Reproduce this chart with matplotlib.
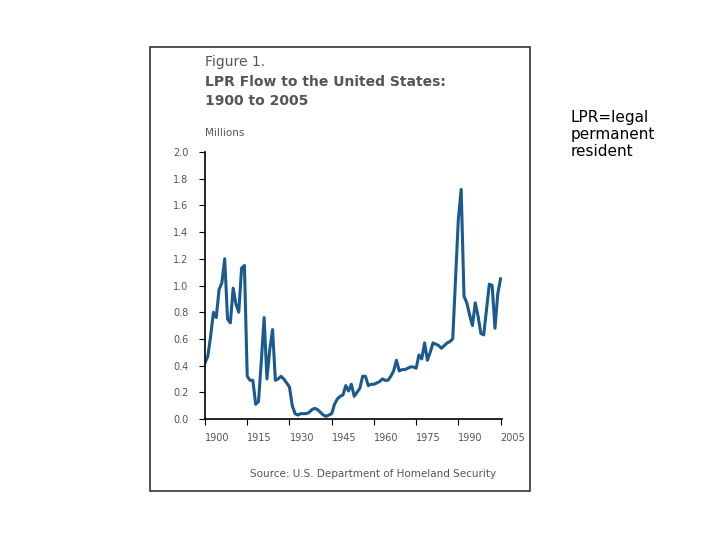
import matplotlib
matplotlib.use("Agg")
import matplotlib.pyplot as plt
from matplotlib.patches import Rectangle

years = list(range(1900, 2006))
lpr = [0.42, 0.47, 0.62, 0.80, 0.76, 0.97, 1.02, 1.20, 0.75, 0.72,
       0.98, 0.86, 0.80, 1.13, 1.15, 0.32, 0.29, 0.29, 0.11, 0.13,
       0.43, 0.76, 0.30, 0.52, 0.67, 0.29, 0.30, 0.32, 0.30, 0.27,
       0.24, 0.10, 0.04, 0.03, 0.04, 0.04, 0.04, 0.05, 0.07, 0.08,
       0.07, 0.05, 0.03, 0.02, 0.03, 0.04, 0.11, 0.15, 0.17, 0.18,
       0.25, 0.21, 0.26, 0.17, 0.20, 0.23, 0.32, 0.32, 0.25, 0.26,
       0.26, 0.27, 0.28, 0.30, 0.29, 0.29, 0.32, 0.36, 0.44, 0.36,
       0.37, 0.37, 0.38, 0.39, 0.39, 0.38, 0.48, 0.45, 0.57, 0.44,
       0.50, 0.57, 0.56, 0.55, 0.53, 0.55, 0.57, 0.58, 0.60, 1.05,
       1.50, 1.72, 0.92, 0.87, 0.78, 0.70, 0.87, 0.77, 0.64, 0.63,
       0.82, 1.01, 1.00, 0.68, 0.94, 1.05]
xticks = [1900, 1915, 1930, 1945, 1960, 1975, 1990, 2005]
yticks = [0.0, 0.2, 0.4, 0.6, 0.8, 1.0, 1.2, 1.4, 1.6, 1.8, 2.0]

W, H = 720, 540
fig = plt.figure(figsize=(7.2, 5.4), dpi=100)
fig.patch.set_facecolor("white")

def fx(px): return px / W
def fy(py): return 1 - py / H

# framed picture box
fig.patches.append(Rectangle((fx(150), fy(491)), fx(530) - fx(150), fy(47) - fy(491),
                             transform=fig.transFigure, fill=False, edgecolor="#333333", lw=1.2))

grey = "#555555"
fig.text(fx(205), fy(62), "Figure 1.", fontsize=10, color=grey, va="center")
fig.text(fx(205), fy(82), "LPR Flow to the United States:", fontsize=10, color=grey,
         va="center", fontweight="bold")
fig.text(fx(205), fy(101), "1900 to 2005", fontsize=10, color=grey, va="center", fontweight="bold")
fig.text(fx(205), fy(133), "Millions", fontsize=7.5, color=grey, va="center")
fig.text(fx(250), fy(474), "Source: U.S. Department of Homeland Security", fontsize=7.5,
         color=grey, va="center")
fig.text(fx(571), fy(110), "LPR=legal\npermanent\nresident", fontsize=11, color="black",
         va="top", linespacing=1.15)

ax = fig.add_axes([fx(205), fy(419), fx(502) - fx(205), fy(152) - fy(419)])
ax.plot(years, lpr, color="#1b5a8e", lw=2.2)
ax.set_xlim(1900, 2005.5)
ax.set_ylim(0, 2.0)
ax.set_yticks(yticks)
ax.set_yticklabels([f"{v:.1f}" for v in yticks], fontsize=7, color=grey)
ax.set_xticks(xticks)
ax.set_xticklabels([str(v) for v in xticks], fontsize=7, color=grey, ha="left")
for s in ["top", "right"]:
    ax.spines[s].set_visible(False)
ax.spines["left"].set_linewidth(1.2)
ax.spines["bottom"].set_linewidth(1.2)
ax.tick_params(axis="y", length=4, direction="out", pad=8)
ax.tick_params(axis="x", length=4, direction="out", pad=6)

fig.savefig("out.png", dpi=100)
